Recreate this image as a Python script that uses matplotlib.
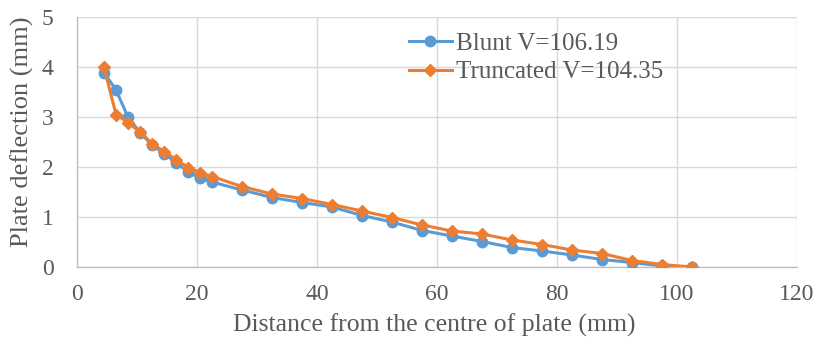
import matplotlib.pyplot as plt

# distance from plate centre (mm)
x_vals = [4.5, 6.5, 8.5, 10.5, 12.5, 14.5, 16.5, 18.5, 20.5, 22.5,
          27.5, 32.5, 37.5, 42.5, 47.5, 52.5, 57.5, 62.5, 67.5, 72.5,
          77.5, 82.5, 87.5, 92.5, 97.5, 102.5]

blunt = [3.89, 3.54, 3.0, 2.69, 2.44, 2.27, 2.09, 1.9, 1.78, 1.7,
         1.54, 1.39, 1.29, 1.2, 1.03, 0.9, 0.73, 0.62, 0.51, 0.39,
         0.32, 0.24, 0.15, 0.09, 0.02, 0.0]

truncated = [4.0, 3.05, 2.89, 2.7, 2.47, 2.31, 2.15, 1.99, 1.89, 1.81,
             1.61, 1.46, 1.37, 1.25, 1.12, 0.99, 0.84, 0.72, 0.66, 0.54,
             0.45, 0.34, 0.27, 0.13, 0.05, 0.0]

labels = ['Blunt V=106.19', 'Truncated V=104.35']

plt.rcParams['font.family'] = ['Liberation Serif', 'DejaVu Serif']
text_col = '#595959'
W, H = 817, 339

fig = plt.figure(figsize=(W / 100, H / 100), dpi=100)
# plot area: x 77..797 px, y 17..267 px
ax = fig.add_axes([77 / W, 1 - 267 / H, 720 / W, 250 / H])

ax.plot(x_vals, blunt, color='#5B9BD5', lw=2.2, marker='o', ms=7.5,
        label=labels[0], zorder=3)
ax.plot(x_vals, truncated, color='#ED7D31', lw=2.2, marker='D', ms=6,
        label=labels[1], zorder=4)

ax.set_xlim(0, 120)
ax.set_ylim(0, 5)
ax.set_xticks(range(0, 121, 20))
ax.set_yticks(range(0, 6))
ax.grid(True, color='#d9d9d9', lw=1)
ax.set_axisbelow(True)
for s in ['top', 'right']:
    ax.spines[s].set_visible(False)
for s in ['left', 'bottom']:
    ax.spines[s].set_color('#bfbfbf')
    ax.spines[s].set_linewidth(1)
ax.tick_params(length=0, labelsize=17, colors=text_col)
ax.tick_params(axis='x', pad=12)
ax.tick_params(axis='y', pad=17)

fig.text(434 / W, 1 - 332 / H, 'Distance from the centre of plate (mm)',
         fontsize=18.5, color=text_col, ha='center', va='baseline')
fig.text(22 / W, 1 - 132 / H, 'Plate deflection (mm)', fontsize=19,
         color=text_col, rotation=90, ha='center', va='center')

ax.legend(loc='upper left', bbox_to_anchor=(409 / W, 1 - 32 / H),
          bbox_transform=fig.transFigure, frameon=False,
          fontsize=18, labelcolor=text_col, handlelength=1.7,
          handletextpad=0.2, labelspacing=0.25, borderaxespad=0,
          borderpad=0)

fig.savefig('out.png', dpi=100)
